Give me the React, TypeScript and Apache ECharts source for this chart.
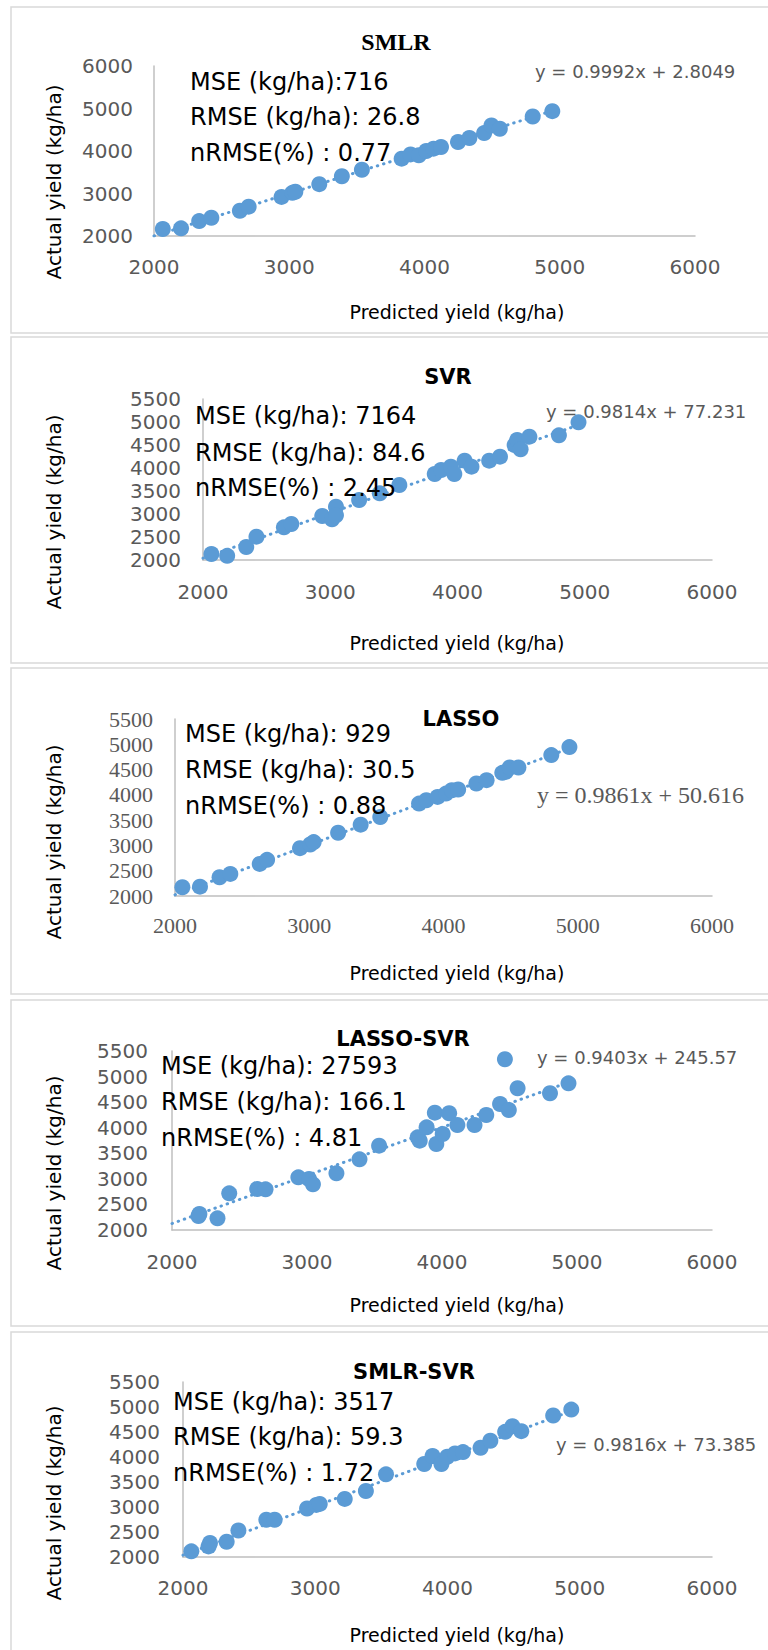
import React, { useEffect, useRef } from "react";
import * as echarts from "echarts";

// ---------- data ----------
const modelNames = ["SMLR", "SVR", "LASSO", "LASSO-SVR", "SMLR-SVR"];
const xTickLabels = [2000, 3000, 4000, 5000, 6000];
const yTickLabelsSmlr = [2000, 3000, 4000, 5000, 6000];
const yTickLabelsOther = [2000, 2500, 3000, 3500, 4000, 4500, 5000, 5500];

const smlrPredicted = [2065, 2200, 2334, 2424, 2635, 2700, 2943, 3023, 3045, 3222, 3389, 3537, 3831, 3897, 3958, 4013, 4067, 4122, 4248, 4332, 4441, 4495, 4557, 4800, 4945];
const smlrActual = [2164, 2180, 2350, 2430, 2594, 2690, 2920, 3015, 3040, 3220, 3406, 3560, 3820, 3920, 3900, 4000, 4055, 4094, 4211, 4305, 4422, 4600, 4523, 4812, 4937];

const svrPredicted = [2066, 2190, 2340, 2420, 2636, 2694, 2937, 3014, 3045, 3045, 3227, 3389, 3543, 3821, 3871, 3948, 3975, 4056, 4110, 4249, 4334, 4449, 4469, 4496, 4565, 4797, 4951];
const svrActual = [2130, 2090, 2283, 2507, 2710, 2783, 2957, 2884, 3159, 2971, 3304, 3449, 3630, 3870, 3957, 4029, 3870, 4159, 4029, 4159, 4246, 4500, 4609, 4406, 4681, 4710, 4993];

const lassoPredicted = [2055, 2186, 2332, 2412, 2631, 2686, 2931, 3007, 3033, 3215, 3383, 3529, 3818, 3872, 3956, 4018, 4062, 4109, 4245, 4321, 4438, 4464, 4493, 4558, 4803, 4938];
const lassoActual = [2172, 2185, 2371, 2437, 2635, 2715, 2946, 3019, 3066, 3251, 3410, 3562, 3827, 3893, 3959, 4025, 4091, 4105, 4224, 4290, 4435, 4455, 4541, 4541, 4786, 4945];

const lassoSvrPredicted = [2196, 2203, 2337, 2424, 2631, 2693, 2936, 3015, 3044, 3218, 3389, 3534, 3820, 3835, 3886, 3947, 3958, 4005, 4053, 4114, 4241, 4328, 4430, 4495, 4560, 4466, 4800, 4937];
const lassoSvrActual = [2274, 2313, 2228, 2717, 2802, 2795, 3030, 2997, 2893, 3108, 3382, 3649, 3812, 3747, 4008, 4295, 3682, 3877, 4282, 4053, 4053, 4249, 4464, 4347, 4771, 5338, 4673, 4868];

const smlrSvrPredicted = [2063, 2193, 2204, 2330, 2419, 2630, 2693, 2938, 3008, 3034, 3223, 3383, 3535, 3824, 3887, 3954, 3998, 4057, 4117, 4250, 4324, 4436, 4491, 4558, 4799, 4936];
const smlrSvrActual = [2113, 2212, 2279, 2305, 2531, 2744, 2744, 2969, 3042, 3062, 3162, 3321, 3653, 3859, 4019, 3859, 4005, 4072, 4098, 4185, 4324, 4503, 4616, 4517, 4829, 4948];

const trendSlopes = [0.9992, 0.9814, 0.9861, 0.9403, 0.9816];
const trendIntercepts = [2.8049, 77.231, 50.616, 245.57, 73.385];

const mseValues = ["716", "7164", "929", "27593", "3517"];
const rmseValues = ["26.8", "84.6", "30.5", "166.1", "59.3"];
const nrmseValues = ["0.77", "2.45", "0.88", "4.81", "1.72"];

const predictedSets = [smlrPredicted, svrPredicted, lassoPredicted, lassoSvrPredicted, smlrSvrPredicted];
const actualSets = [smlrActual, svrActual, lassoActual, lassoSvrActual, smlrSvrActual];
const yTickSets = [yTickLabelsSmlr, yTickLabelsOther, yTickLabelsOther, yTickLabelsOther, yTickLabelsOther];

// ---------- layout & style ----------
const SANS = "'DejaVu Sans', sans-serif";
const SERIF = "'Liberation Serif', 'Times New Roman', serif";
const BLUE = "#5B9BD5";
const GRAY_TEXT = "#595959";

const layouts = [
  { title: { x: 396, y: 42, font: `bold 24px ${SERIF}` }, grid: { left: 154, top: 66, width: 541, height: 170 }, tickFont: SANS, tickSize: 20, yMargin: 21, xMargin: 21, stats: { x: 190, ys: [82, 117, 153] }, eq: { x: 535, y: 71, font: `18px ${SANS}` }, border: { y: 7, h: 326 }, yTitleY: 182, xTitleY: 312, msePrefix: "MSE (kg/ha):" },
  { title: { x: 448, y: 377, font: `bold 21px ${SANS}` }, grid: { left: 203, top: 399, width: 509, height: 161 }, tickFont: SANS, tickSize: 20, yMargin: 22, xMargin: 22, stats: { x: 195, ys: [416, 453, 488] }, eq: { x: 546, y: 411, font: `18px ${SANS}` }, border: { y: 337, h: 326 }, yTitleY: 512, xTitleY: 643, msePrefix: "MSE (kg/ha): " },
  { title: { x: 461, y: 719, font: `bold 21px ${SANS}` }, grid: { left: 175, top: 719, width: 537, height: 177 }, tickFont: SERIF, tickSize: 22, yMargin: 22, xMargin: 18, stats: { x: 185, ys: [734, 770, 806] }, eq: { x: 537, y: 795, font: `24px ${SERIF}` }, border: { y: 668, h: 326 }, yTitleY: 842, xTitleY: 973, msePrefix: "MSE (kg/ha): " },
  { title: { x: 403, y: 1039, font: `bold 21px ${SANS}` }, grid: { left: 172, top: 1051, width: 540, height: 179 }, tickFont: SANS, tickSize: 20, yMargin: 24, xMargin: 22, stats: { x: 161, ys: [1066, 1102, 1138] }, eq: { x: 537, y: 1057, font: `18px ${SANS}` }, border: { y: 1000, h: 326 }, yTitleY: 1173, xTitleY: 1305, msePrefix: "MSE (kg/ha): " },
  { title: { x: 414, y: 1372, font: `bold 21px ${SANS}` }, grid: { left: 183, top: 1382, width: 529, height: 175 }, tickFont: SANS, tickSize: 20, yMargin: 23, xMargin: 21, stats: { x: 173, ys: [1402, 1437, 1473] }, eq: { x: 556, y: 1444, font: `18px ${SANS}` }, border: { y: 1332, h: 340 }, yTitleY: 1503, xTitleY: 1635, msePrefix: "MSE (kg/ha): " },
];

function buildOption() {
  const grids: any[] = [];
  const xAxes: any[] = [];
  const yAxes: any[] = [];
  const series: any[] = [];
  const graphics: any[] = [];
  const plain = (v: number) => String(v);

  modelNames.forEach((name, i) => {
    const L = layouts[i];
    const yTicks = yTickSets[i];
    grids.push({ ...L.grid, containLabel: false });
    const axisLine = { show: true, onZero: false, lineStyle: { color: "#BFBFBF", width: 1.5 } };
    xAxes.push({
      type: "value", gridIndex: i,
      min: xTickLabels[0], max: xTickLabels[xTickLabels.length - 1], interval: xTickLabels[1] - xTickLabels[0],
      axisLine, axisTick: { show: false }, splitLine: { show: false },
      axisLabel: { color: GRAY_TEXT, fontFamily: L.tickFont, fontSize: L.tickSize, margin: L.xMargin, showMinLabel: true, showMaxLabel: true, formatter: plain },
    });
    yAxes.push({
      type: "value", gridIndex: i,
      min: yTicks[0], max: yTicks[yTicks.length - 1], interval: yTicks[1] - yTicks[0],
      axisLine, axisTick: { show: false }, splitLine: { show: false },
      axisLabel: { color: GRAY_TEXT, fontFamily: L.tickFont, fontSize: L.tickSize, margin: L.yMargin, showMinLabel: true, showMaxLabel: true, formatter: plain },
    });

    const px = predictedSets[i];
    const ay = actualSets[i];
    const xStart = xTickLabels[0];
    const xEnd = Math.max(...px);
    series.push({
      type: "line", xAxisIndex: i, yAxisIndex: i, z: 1,
      showSymbol: false, silent: true,
      data: [
        [xStart, trendSlopes[i] * xStart + trendIntercepts[i]],
        [xEnd, trendSlopes[i] * xEnd + trendIntercepts[i]],
      ],
      lineStyle: { color: BLUE, width: 3, type: [0.5, 6], cap: "round" },
    });
    series.push({
      type: "scatter", xAxisIndex: i, yAxisIndex: i, z: 3,
      symbol: "circle", symbolSize: 16,
      itemStyle: { color: BLUE, opacity: 1 },
      data: px.map((x, k) => [x, ay[k]]),
    });

    graphics.push({
      type: "rect", z: 0, silent: true,
      shape: { x: 11, y: L.border.y, width: 780, height: L.border.h },
      style: { fill: "none", stroke: "#D9D9D9", lineWidth: 1.5 },
    });
    graphics.push({
      type: "text", z: 10, x: L.title.x, y: L.title.y,
      style: { text: name, font: L.title.font, fill: "#000", align: "center", verticalAlign: "middle" },
    });
    const statLines = [
      `${L.msePrefix}${mseValues[i]}`,
      `RMSE (kg/ha): ${rmseValues[i]}`,
      `nRMSE(%) : ${nrmseValues[i]}`,
    ];
    statLines.forEach((t, k) => {
      graphics.push({
        type: "text", z: 10, x: L.stats.x, y: L.stats.ys[k],
        style: { text: t, font: `24px ${SANS}`, fill: "#000", align: "left", verticalAlign: "middle" },
      });
    });
    graphics.push({
      type: "text", z: 10, x: L.eq.x, y: L.eq.y,
      style: { text: `y = ${trendSlopes[i]}x + ${trendIntercepts[i]}`, font: L.eq.font, fill: GRAY_TEXT, align: "left", verticalAlign: "middle" },
    });
    graphics.push({
      type: "text", z: 10, x: 457, y: L.xTitleY,
      style: { text: "Predicted yield (kg/ha)", font: `19px ${SANS}`, fill: "#000", align: "center", verticalAlign: "middle" },
    });
    graphics.push({
      type: "text", z: 10, x: 54, y: L.yTitleY, rotation: Math.PI / 2,
      style: { text: "Actual yield (kg/ha)", font: `20px ${SANS}`, fill: "#000", align: "center", verticalAlign: "middle" },
    });
  });

  return {
    animation: false,
    backgroundColor: "#ffffff",
    grid: grids,
    xAxis: xAxes,
    yAxis: yAxes,
    series,
    graphic: graphics,
  };
}

export default function App() {
  const ref = useRef<HTMLDivElement>(null);
  useEffect(() => {
    document.body.style.margin = "0";
    if (!ref.current) return;
    const chart = echarts.init(ref.current, null, { renderer: "svg" });
    chart.setOption(buildOption() as any);
    return () => chart.dispose();
  }, []);
  return <div ref={ref} style={{ width: 768, height: 1650, background: "#fff" }} />;
}
